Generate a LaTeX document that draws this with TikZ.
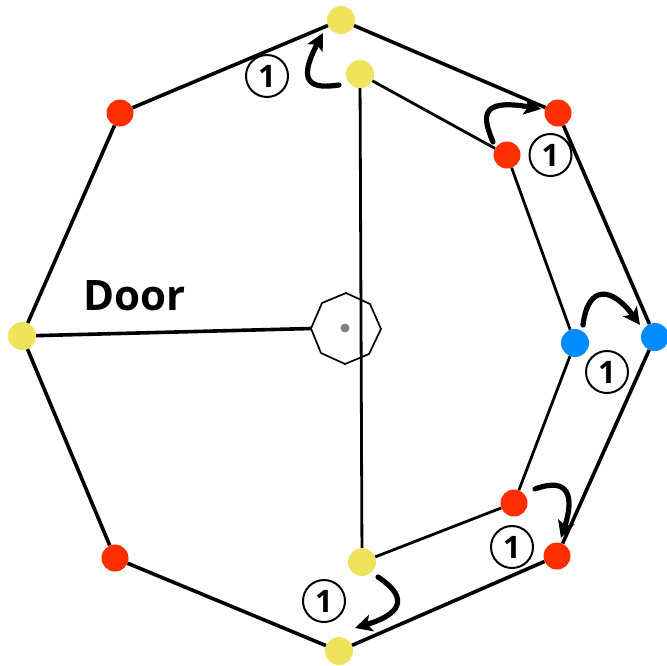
\documentclass[tikz,border=0pt]{standalone}
\usepackage{fontspec}
\setmainfont{Open Sans}
\usetikzlibrary{arrows.meta}
\definecolor{dotyellow}{HTML}{F0E35C}
\definecolor{dotred}{HTML}{FF2E00}
\definecolor{dotblue}{HTML}{008CFF}
\tikzset{
  dot/.style={circle,inner sep=0pt,minimum size=#1,draw=none},
  yel/.style={dot=28pt,fill=dotyellow},
  redd/.style={dot=27pt,fill=dotred},
  blu/.style={dot=28pt,fill=dotblue},
  outeredge/.style={line width=3.6pt,black},
  inneredge/.style={line width=2.8pt,black},
  hub/.style={line width=1.7pt,black},
  movearrow/.style={line width=5.2pt,line cap=round,black,-{Stealth[length=17pt,width=17pt,inset=4pt]}},
  count/.style={circle,draw=black,line width=2pt,minimum size=42pt,inner sep=0pt,font=\bfseries\fontsize{31}{31}\selectfont},
}
\begin{document}
\begin{tikzpicture}[x=1pt,y=-1pt]
\useasboundingbox (0,0) rectangle (667,665);
% outer nodes
\node[yel] (o1) at (341,20) {};
\node[redd] (o2) at (558,113) {};
\node[blu] (o3) at (655,337) {};
\node[redd] (o4) at (557,556) {};
\node[yel] (o5) at (339,651) {};
\node[redd] (o6) at (115,558) {};
\node[yel] (o7) at (22,336) {};
\node[redd] (o8) at (120,113) {};
% inner nodes
\node[yel] (i1) at (360,74) {};
\node[redd] (i2) at (507,155) {};
\node[blu] (i3) at (575,343) {};
\node[redd] (i4) at (514,503) {};
\node[yel] (i5) at (362,562) {};
% hub
\coordinate (h1) at (311,328.5);
\coordinate (h2) at (322,303);
\coordinate (h3) at (346,293);
\coordinate (h4) at (370,304);
\coordinate (h5) at (381,329);
\coordinate (h6) at (369,354);
\coordinate (h7) at (345,364);
\coordinate (h8) at (321,353);
\draw[hub,line join=round] (h1)--(h2)--(h3)--(h4)--(h5)--(h6)--(h7)--(h8)--cycle;
\node[dot=9pt,fill=gray] (pivot) at (345,328) {};
% edges
\draw[outeredge] (o1)--(o2);
\draw[outeredge] (o2)--(o3);
\draw[outeredge] (o3)--(o4);
\draw[outeredge] (o4)--(o5);
\draw[outeredge] (o5)--(o6);
\draw[outeredge] (o6)--(o7);
\draw[outeredge] (o7)--(o8);
\draw[outeredge] (o8)--(o1);
\draw[inneredge] (i1)--(i2);
\draw[inneredge] (i2)--(i3);
\draw[inneredge] (i3)--(i4);
\draw[inneredge] (i4)--(i5);
\draw[inneredge] (i5)--(i1);
\draw[outeredge] (o7)--(h1);
% labels
\node[font=\bfseries\fontsize{42}{42}\selectfont,anchor=center] (door) at (134.5,296) {Door};
\node[count] (c1) at (267,76) {1};
\node[count] (c2) at (550.5,155) {1};
\node[count] (c3) at (607,372) {1};
\node[count] (c4) at (512,547) {1};
\node[count] (c5) at (324,601) {1};
% move arrows
\coordinate (s1) at (339,85);
\coordinate (t1) at (323,33);
\coordinate (s2) at (493,142);
\coordinate (t2) at (541,109);
\coordinate (s3) at (583,325);
\coordinate (t3) at (640,325);
\coordinate (s4) at (535,489);
\coordinate (t4) at (561,538);
\coordinate (s5) at (378,577);
\coordinate (t5) at (355,628);
\draw[movearrow] (s1) .. controls (312,89) and (296,84) .. (t1);
\draw[movearrow] (s2) .. controls (483,118) and (478,98) .. (t2);
\draw[movearrow] (s3) .. controls (588,284) and (612,287) .. (t3);
\draw[movearrow] (s4) .. controls (570,476) and (574,498) .. (t4);
\draw[movearrow] (s5) .. controls (404,594) and (408,612) .. (t5);
\end{tikzpicture}
\end{document}
